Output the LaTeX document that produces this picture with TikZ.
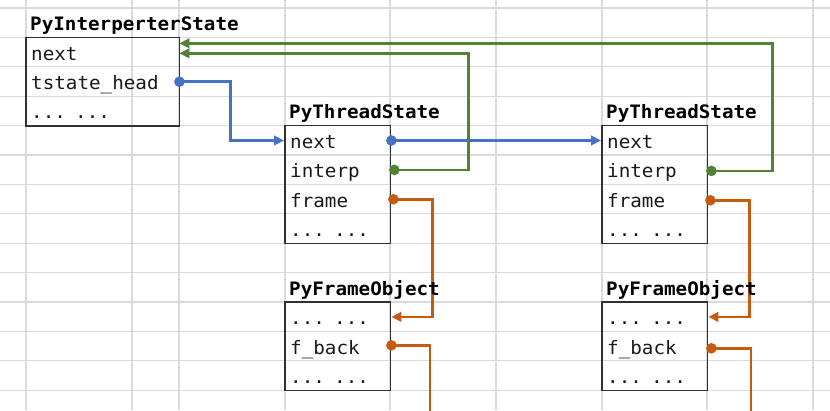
\documentclass[tikz,border=0pt]{standalone}
\usepackage{fontspec}
\newfontfamily\cellfont[FakeStretch=1.04]{DejaVu Sans Mono}
\usetikzlibrary{arrows.meta}
\definecolor{gridc}{HTML}{DADADA}
\definecolor{blu}{HTML}{4472C4}
\definecolor{grn}{HTML}{548235}
\definecolor{org}{HTML}{C55A11}
\definecolor{ink}{HTML}{1A1A1A}
\tikzset{
  gridline/.style={draw=gridc, line width=1.2pt},
  boxline/.style={draw=ink!90, line width=1.3pt},
  field/.style={anchor=north west, inner xsep=5pt, inner ysep=0pt,
    minimum height=29.4pt, text height=15.4pt, text depth=0pt,
    align=left, font=\cellfont\fontsize{18.5}{20}\selectfont, text=ink},
  wide/.style={field, text width=143pt},
  narrow/.style={field, text width=95pt},
  titletext/.style={anchor=base west, inner sep=0pt,
    font=\cellfont\bfseries\fontsize{18.5}{20}\selectfont, text=black},
  link/.style={line width=2.5pt},
  tip/.style={-{Triangle[length=10pt,width=9.5pt]}},
}
\begin{document}
\begin{tikzpicture}[x=1pt,y=-1pt]
\useasboundingbox (0,0) rectangle (830,410);
\fill[white] (0,0) rectangle (830,410);
% grid
\foreach \k in {0,...,13} \draw[gridline] (0,8+29.4*\k) -- (830,8+29.4*\k);
\foreach \x in {26,132,179,285,390,496,602,707,813} \draw[gridline] (\x,0) -- (\x,410);

% PyInterperterState
\node[wide] (is-next) at (26,37.4) {next};
\node[wide] (is-head) at (26,66.8) {tstate\_head};
\node[wide] (is-dots) at (26,96.2) {... ...};
\draw[boxline] (is-next.north west) rectangle (is-dots.south east);

% PyThreadState 1
\node[narrow] (ts1-next) at (285,125.6) {next};
\node[narrow] (ts1-interp) at (285,155) {interp};
\node[narrow] (ts1-frame) at (285,184.4) {frame};
\node[narrow] (ts1-dots) at (285,213.8) {... ...};
\draw[boxline] (ts1-next.north west) rectangle (ts1-dots.south east);

% PyThreadState 2
\node[narrow] (ts2-next) at (602,125.6) {next};
\node[narrow] (ts2-interp) at (602,155) {interp};
\node[narrow] (ts2-frame) at (602,184.4) {frame};
\node[narrow] (ts2-dots) at (602,213.8) {... ...};
\draw[boxline] (ts2-next.north west) rectangle (ts2-dots.south east);

% PyFrameObject 1
\node[narrow] (fo1-d1) at (285,302) {... ...};
\node[narrow] (fo1-back) at (285,331.4) {f\_back};
\node[narrow] (fo1-d2) at (285,360.8) {... ...};
\draw[boxline] (fo1-d1.north west) rectangle (fo1-d2.south east);

% PyFrameObject 2
\node[narrow] (fo2-d1) at (602,302) {... ...};
\node[narrow] (fo2-back) at (602,331.4) {f\_back};
\node[narrow] (fo2-d2) at (602,360.8) {... ...};
\draw[boxline] (fo2-d1.north west) rectangle (fo2-d2.south east);

\coordinate (fo1-out) at (430,414);
\coordinate (fo2-out) at (751,414);

% blue links
\draw[link, blu, tip] (is-head.east) -- ++(51,0) |- ([xshift=-1pt]ts1-next.west);
\fill[blu] (is-head.east) circle (5.3pt);
\draw[link, blu, tip] ([xshift=1pt]ts1-next.east) -- ([xshift=-1pt]ts2-next.west);
\fill[blu] ([xshift=1pt]ts1-next.east) circle (5.3pt);

% green links
\draw[link, grn, tip] ([xshift=4pt]ts1-interp.east) -- ++(74,0) |- ([yshift=-1pt]is-next.east);
\fill[grn] ([xshift=4pt]ts1-interp.east) circle (5.3pt);
\draw[link, grn, tip] ([xshift=4pt,yshift=-1pt]ts2-interp.east) -- ++(61,0) |- ([yshift=9pt]is-next.east);
\fill[grn] ([xshift=4pt,yshift=-1pt]ts2-interp.east) circle (5.3pt);

% orange links
\draw[link, org, tip] ([xshift=3pt]ts1-frame.east) -- ++(39,0) |- ([xshift=1pt]fo1-d1.east);
\fill[org] ([xshift=3pt]ts1-frame.east) circle (5.3pt);
\draw[link, org, tip] ([xshift=3pt,yshift=-1pt]ts2-frame.east) -- ++(39,0) |- ([xshift=1pt]fo2-d1.east);
\fill[org] ([xshift=3pt,yshift=-1pt]ts2-frame.east) circle (5.3pt);
\draw[link, org] ([xshift=1pt,yshift=1pt]fo1-back.east) -| (fo1-out);
\fill[org] ([xshift=1pt,yshift=1pt]fo1-back.east) circle (5.3pt);
\draw[link, org] ([xshift=4pt,yshift=-2pt]fo2-back.east) -| (fo2-out);
\fill[org] ([xshift=4pt,yshift=-2pt]fo2-back.east) circle (5.3pt);

% titles (on top of the links)
\node[titletext] (is-title) at (30,30.4) {PyInterperterState};
\node[titletext] (ts1-title) at (289,118.6) {PyThreadState};
\node[titletext] (ts2-title) at (606,118.6) {PyThreadState};
\node[titletext] (fo1-title) at (289,295) {PyFrameObject};
\node[titletext] (fo2-title) at (606,295) {PyFrameObject};
\end{tikzpicture}
\end{document}
